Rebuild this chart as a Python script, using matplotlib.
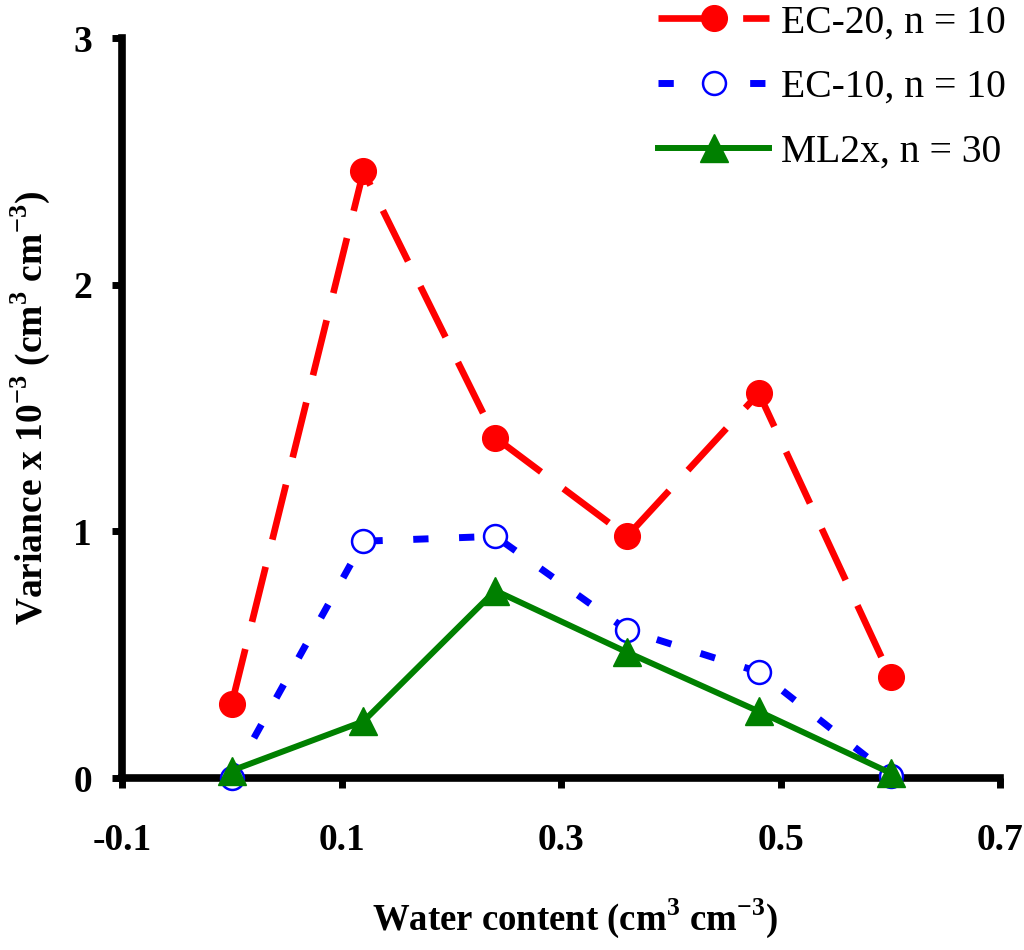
import matplotlib
matplotlib.use("Agg")
import matplotlib.pyplot as plt

water = [0.0, 0.12, 0.24, 0.36, 0.48, 0.60]
ec20 = [0.30, 2.46, 1.38, 0.98, 1.56, 0.41]
ec10 = [0.00, 0.96, 0.98, 0.60, 0.43, 0.01]
ml2x = [0.03, 0.23, 0.76, 0.51, 0.27, 0.02]

labels = ["EC-20, n = 10", "EC-10, n = 10", "ML2x, n = 30"]
xticks = [-0.1, 0.1, 0.3, 0.5, 0.7]
xticklabels = ['-0.1', '0.1', '0.3', '0.5', '0.7']
yticks = [0, 1, 2, 3]

plt.rcParams['font.family'] = ['Liberation Serif', 'DejaVu Serif']
plt.rcParams['mathtext.fontset'] = 'custom'
plt.rcParams['mathtext.rm'] = 'Liberation Serif'
plt.rcParams['mathtext.bf'] = 'Liberation Serif:bold'

fig = plt.figure(figsize=(10.24, 9.5), dpi=100)
ax = fig.add_axes([0.119, 0.181, 0.858, 0.779])

ax.plot(water, ec20, color='#ff0000', lw=4.8, dashes=(8.5, 4.2),
        marker='o', markersize=18.5, markerfacecolor='#ff0000',
        markeredgecolor='#ff0000', label=labels[0], clip_on=False, zorder=3)
ax.plot(water, ec10, color='#0000ff', lw=5, dashes=(2.2, 4.4),
        marker='o', markersize=16.5, markerfacecolor='white',
        markeredgecolor='#0000ff', markeredgewidth=1.8, label=labels[1],
        clip_on=False, zorder=4)
ax.plot(water, ml2x, color='#008000', lw=4.3, marker='^', markersize=20,
        markerfacecolor='#008000', markeredgecolor='#008000',
        label=labels[2], clip_on=False, zorder=5)

ax.set_xlim(-0.1, 0.7)
ax.set_ylim(0, 3)
ax.set_xticks(xticks)
ax.set_xticklabels(xticklabels)
ax.set_yticks(yticks)

for s in ['top', 'right']:
    ax.spines[s].set_visible(False)
for s in ['left', 'bottom']:
    ax.spines[s].set_linewidth(5.5)
    ax.spines[s].set_color('black')

ax.tick_params(axis='both', direction='out', length=7.5, width=5, labelsize=27)
ax.tick_params(axis='x', pad=25)
ax.tick_params(axis='y', pad=14)
for t in ax.get_xticklabels() + ax.get_yticklabels():
    t.set_fontweight('bold')

ax.set_xlabel(r'Water content (cm$^\mathbf{3}$ cm$^\mathbf{-3}$)', fontsize=26.5,
              fontweight='bold')
ax.set_ylabel(r'Variance x 10$^\mathbf{-3}$ (cm$^\mathbf{3}$ cm$^\mathbf{-3}$)', fontsize=27,
              fontweight='bold')
ax.xaxis.set_label_coords(0.516, -0.16)
ax.yaxis.set_label_coords(-0.079, 0.5)

fig.legend(loc='upper right', bbox_to_anchor=(1.017, 1.033), frameon=False,
           fontsize=28.5, handlelength=2.8, handletextpad=0.3, labelspacing=0.7)

fig.savefig('out.png', dpi=100)
